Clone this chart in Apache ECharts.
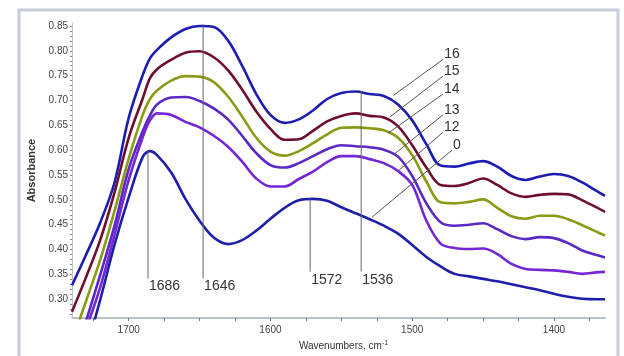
<!DOCTYPE html>
<html>
<head>
<meta charset="utf-8">
<script src="https://cdn.jsdelivr.net/npm/echarts@6/dist/echarts.min.js"></script>
<style>
html,body{margin:0;padding:0;background:#fff;}
#chart{width:624px;height:356px;}
</style>
</head>
<body>
<div id="chart"></div>
<script>
// ---- data ----
const wavenumbers = [1740,1730,1720,1710,1700,1690,1685,1680,1670,1660,1650,1640,1630,1620,1610,1600,1590,1580,1570,1560,1550,1540,1530,1520,1510,1500,1490,1480,1470,1460,1450,1440,1430,1420,1410,1400,1390,1380,1370,1364];
const s16 = [0.328,0.390,0.455,0.535,0.665,0.752,0.785,0.802,0.827,0.844,0.850,0.848,0.821,0.770,0.713,0.671,0.655,0.662,0.680,0.703,0.715,0.718,0.713,0.709,0.692,0.660,0.612,0.569,0.567,0.573,0.578,0.567,0.548,0.540,0.547,0.552,0.548,0.535,0.518,0.508];
const s15 = [0.275,0.345,0.420,0.515,0.625,0.705,0.745,0.763,0.782,0.796,0.799,0.787,0.761,0.722,0.678,0.643,0.621,0.622,0.639,0.658,0.669,0.674,0.669,0.666,0.648,0.610,0.565,0.530,0.528,0.534,0.543,0.530,0.513,0.506,0.510,0.512,0.511,0.499,0.485,0.476];
const s14 = [0.215,0.297,0.380,0.478,0.583,0.672,0.703,0.720,0.740,0.749,0.748,0.737,0.708,0.668,0.625,0.597,0.589,0.598,0.614,0.632,0.645,0.646,0.644,0.640,0.625,0.590,0.537,0.495,0.493,0.496,0.501,0.484,0.467,0.462,0.468,0.468,0.461,0.449,0.436,0.428];
const s13 = [0.170,0.257,0.350,0.448,0.562,0.639,0.670,0.692,0.706,0.707,0.699,0.684,0.662,0.629,0.594,0.570,0.565,0.574,0.588,0.602,0.610,0.608,0.606,0.601,0.587,0.548,0.493,0.455,0.448,0.450,0.453,0.441,0.427,0.421,0.425,0.423,0.413,0.398,0.389,0.384];
const s12 = [0.150,0.240,0.325,0.430,0.540,0.627,0.660,0.674,0.671,0.657,0.646,0.629,0.607,0.577,0.543,0.527,0.527,0.542,0.557,0.576,0.588,0.588,0.582,0.574,0.558,0.530,0.458,0.412,0.403,0.401,0.402,0.391,0.371,0.361,0.359,0.358,0.355,0.351,0.354,0.355];
const s0  = [0.120,0.200,0.300,0.410,0.505,0.587,0.598,0.590,0.555,0.502,0.458,0.424,0.411,0.419,0.438,0.462,0.484,0.499,0.502,0.498,0.485,0.473,0.461,0.448,0.432,0.409,0.385,0.366,0.351,0.346,0.341,0.336,0.330,0.324,0.318,0.311,0.305,0.301,0.300,0.300];

const seriesNames = ['16','15','14','13','12','0'];
const xLabelValues = [1700,1600,1500,1400];
const xTickValues = [1725,1700,1675,1650,1625,1600,1575,1550,1525,1500,1475,1450,1425,1400,1375];
const yLabelValues = [0.30,0.35,0.40,0.45,0.50,0.55,0.60,0.65,0.70,0.75,0.80,0.85];
const yTickValues = [0.27,0.28,0.29,0.30,0.31,0.32,0.33,0.34,0.35,0.36,0.37,0.38,0.39,0.40,0.41,0.42,0.43,0.44,0.45,0.46,0.47,0.48,0.49,0.50,0.51,0.52,0.53,0.54,0.55,0.56,0.57,0.58,0.59,0.60,0.61,0.62,0.63,0.64,0.65,0.66,0.67,0.68,0.69,0.70,0.71,0.72,0.73,0.74,0.75,0.76,0.77,0.78,0.79,0.80,0.81,0.82,0.83,0.84,0.85];

// peak annotations (data space)
const peakLabels = ['1686','1646','1572','1536'];
const peakWn     = [1686.4,1647.5,1572,1536];
const peakTop    = [0.598,0.854,0.502,0.719];
const peakBottom = [0.3415,0.3415,0.3554,0.3554];

// curve-label leader lines (data space)
const leaderStartWn  = [1513.4,1515.7,1517.1,1513.6,1510.0,1528.4];
const leaderStartVal = [0.710,0.667,0.634,0.590,0.558,0.465];
const leaderEndWn    = [1478.1,1478.3,1478.3,1478.3,1478.3,1471.9];
const leaderEndVal   = [0.783,0.749,0.713,0.671,0.636,0.600];

// ---- styles ----
const FONT = '"Liberation Sans", Arial, sans-serif';
const colors = ['#1c1cb4','#6e0e2c','#8a9a14','#5a28c4','#7426d6','#1e1eaa'];
const allSeries = [s16,s15,s14,s13,s12,s0];

const chart = echarts.init(document.getElementById('chart'), null, {renderer:'canvas'});

const series = allSeries.map((arr, i) => ({
  name: seriesNames[i],
  type: 'line',
  data: wavenumbers.map((w, j) => [w, arr[j]]),
  showSymbol: false,
  smooth: 0.35,
  clip: true,
  lineStyle: {color: colors[i], width: 2.6},
  z: 3 + i
}));

chart.setOption({
  animation: false,
  backgroundColor: '#ffffff',
  grid: {left: 72, right: 19, top: 23, bottom: 34},
  xAxis: {
    type: 'value', inverse: true, min: 1364, max: 1740,
    name: 'Wavenumbers, cm{sup|-1}',
    nameLocation: 'middle', nameGap: 18,
    nameTextStyle: {
      color: '#333', fontSize: 10, fontFamily: FONT, verticalAlign: 'top',
      padding: [0, 0, 0, 10],
      rich: {sup: {fontSize: 7, fontFamily: FONT, color: '#333', verticalAlign: 'top', padding: [0,0,5,0]}}
    },
    axisLine: {show: true, onZero: false, lineStyle: {color: '#b9c1cd', width: 2}},
    axisTick: {show: true, length: 3, customValues: xTickValues, lineStyle: {color: '#777'}},
    axisLabel: {customValues: xLabelValues, color: '#444', fontSize: 10, margin: 7, fontFamily: FONT,
      formatter: v => String(Math.round(v))},
    splitLine: {show: false}
  },
  yAxis: {
    type: 'value', min: 0.262, max: 0.856,
    name: 'Absorbance', nameLocation: 'middle', nameGap: 25, nameRotate: 90,
    nameTextStyle: {color: '#333', fontSize: 11, fontWeight: 'bold', fontFamily: FONT},
    axisLine: {show: true, onZero: false, lineStyle: {color: '#b9c1cd', width: 1}},
    axisTick: {show: true, length: 2, customValues: yTickValues, lineStyle: {color: '#888'}},
    axisLabel: {customValues: yLabelValues, color: '#444', fontSize: 10, margin: 4, fontFamily: FONT,
      formatter: v => v.toFixed(2)},
    splitLine: {show: false}
  },
  series: series
});

// annotations positioned through the chart's own coordinate system
const toPx = (w, v) => chart.convertToPixel({gridIndex: 0}, [w, v]);
const graphics = [];
graphics.push({
  type: 'rect', silent: true, z: 0,
  shape: {x: 19, y: 10, width: 599, height: 400},
  style: {fill: 'none', stroke: '#c6ced9', lineWidth: 3}
});
peakLabels.forEach((lab, i) => {
  const a = toPx(peakWn[i], peakTop[i]);
  const b = toPx(peakWn[i], peakBottom[i]);
  graphics.push({
    type: 'line', silent: true, z: 50,
    shape: {x1: a[0], y1: a[1], x2: b[0], y2: b[1]},
    style: {stroke: '#666', lineWidth: 1}
  });
  graphics.push({
    type: 'text', silent: true, z: 50,
    x: b[0] + 1, y: b[1] + 1,
    style: {text: lab, fill: '#333', font: '14px ' + FONT, textAlign: 'left', textVerticalAlign: 'top'}
  });
});
seriesNames.forEach((lab, i) => {
  const a = toPx(leaderStartWn[i], leaderStartVal[i]);
  const b = toPx(leaderEndWn[i], leaderEndVal[i]);
  graphics.push({
    type: 'line', silent: true, z: 50,
    shape: {x1: a[0], y1: a[1], x2: b[0], y2: b[1]},
    style: {stroke: '#555', lineWidth: 1}
  });
  graphics.push({
    type: 'text', silent: true, z: 50,
    x: b[0] + 1, y: b[1] - 5,
    style: {text: lab, fill: '#333', font: '14px ' + FONT, textAlign: 'left', textVerticalAlign: 'middle'}
  });
});
chart.setOption({graphic: graphics});
</script>
</body>
</html>
